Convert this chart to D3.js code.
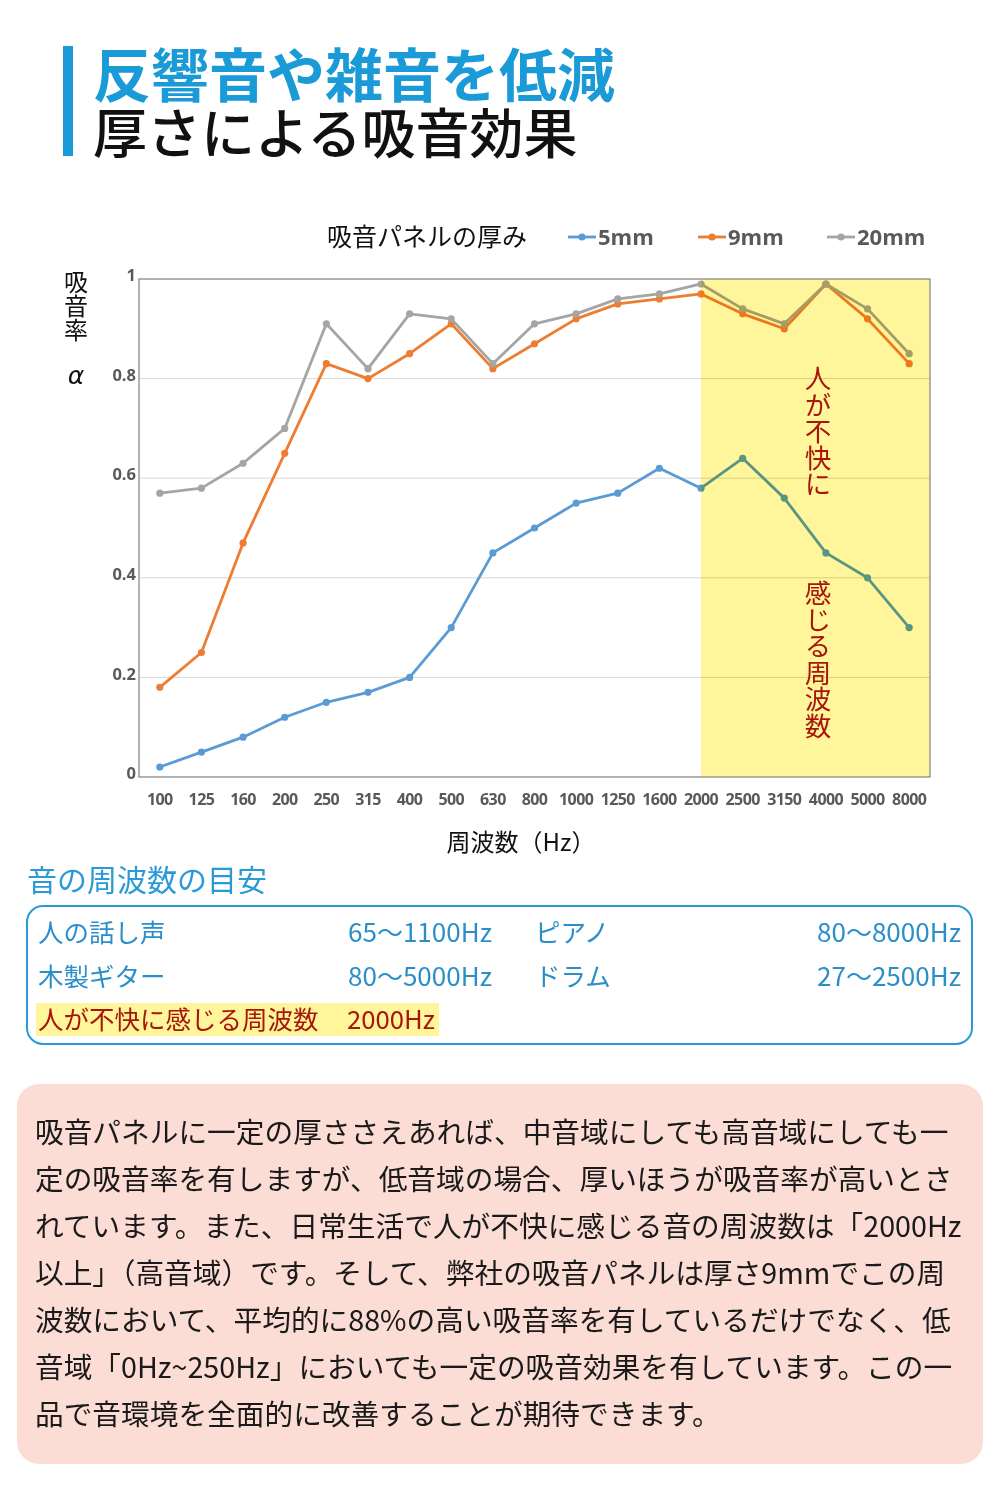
<!DOCTYPE html>
<html><head><meta charset="utf-8">
<script src="https://cdn.jsdelivr.net/npm/d3@7"></script>
<style>
body{margin:0;background:#fff;}
svg{display:block;}
.vt{writing-mode:vertical-rl;text-orientation:upright;}
</style></head>
<body>
<svg id="c" width="1000" height="1500"></svg>
<script>
const categories = ["100","125","160","200","250","315","400","500","630","800","1000","1250","1600","2000","2500","3150","4000","5000","8000"];
const s5mm  = [0.02,0.05,0.08,0.12,0.15,0.17,0.20,0.30,0.45,0.50,0.55,0.57,0.62,0.58,0.64,0.56,0.45,0.40,0.30];
const s9mm  = [0.18,0.25,0.47,0.65,0.83,0.80,0.85,0.91,0.82,0.87,0.92,0.95,0.96,0.97,0.93,0.90,0.99,0.92,0.83];
const s20mm = [0.57,0.58,0.63,0.70,0.91,0.82,0.93,0.92,0.83,0.91,0.93,0.96,0.97,0.99,0.94,0.91,0.99,0.94,0.85];
const seriesNames = ["5mm","9mm","20mm"];
const yTicks = [0,0.2,0.4,0.6,0.8,1];
const highlightFrom = "2000";
const refRows = [["人の話し声","65〜1100Hz","ピアノ","80〜8000Hz"],["木製ギター","80〜5000Hz","ドラム","27〜2500Hz"]];
const bodyLines = [
"吸音パネルに一定の厚ささえあれば、中音域にしても高音域にしても一",
"定の吸音率を有しますが、低音域の場合、厚いほうが吸音率が高いとさ",
"れています。また、日常生活で人が不快に感じる音の周波数は「2000Hz",
"以上」（高音域）です。そして、弊社の吸音パネルは厚さ9mmでこの周",
"波数において、平均的に88%の高い吸音率を有しているだけでなく、低",
"音域「0Hz~250Hz」においても一定の吸音効果を有しています。この一",
"品で音環境を全面的に改善することが期待できます。"];

const JP = "'Noto Sans CJK JP','Noto Sans',sans-serif";
const svg = d3.select("#c");
const colors = ["#5B9BD5","#ED7D31","#A5A5A5"];
const data = [s5mm,s9mm,s20mm];

// Title
svg.append("rect").attr("x",63).attr("y",46).attr("width",10).attr("height",110).attr("fill","#1a9ad6");
svg.append("text").attr("x",93).attr("y",97).attr("font-family",JP).attr("font-weight",700).attr("font-size",58).attr("fill","#1a9ad6").text("反響音や雑音を低減");
svg.append("text").attr("x",93).attr("y",154).attr("font-family",JP).attr("font-weight",500).attr("font-size",54).attr("fill","#111").text("厚さによる吸音効果");

// Chart
const m = {l:139, r:930, t:279, b:777};
const x = d3.scaleBand().domain(categories).range([m.l,m.r]);
const y = d3.scaleLinear().domain([0,1]).range([m.b,m.t]);
const cx = d => x(d)+x.bandwidth()/2;

svg.append("g").selectAll("line").data(yTicks.filter(v=>v>0&&v<1)).join("line")
  .attr("x1",m.l).attr("x2",m.r).attr("y1",d=>y(d)).attr("y2",d=>y(d))
  .attr("stroke","#d9d9d9").attr("stroke-width",1);

const line = d3.line().x((d,i)=>cx(categories[i])).y(d=>y(d));
data.forEach((arr,k)=>{
  const g = svg.append("g");
  g.append("path").datum(arr).attr("d",line).attr("fill","none").attr("stroke",colors[k]).attr("stroke-width",2.8).attr("stroke-linejoin","round");
  g.selectAll("circle").data(arr).join("circle").attr("cx",(d,i)=>cx(categories[i])).attr("cy",d=>y(d)).attr("r",3.6).attr("fill",colors[k]);
});

// highlight overlay (multiply)
const hx = cx(highlightFrom);
svg.append("rect").attr("x",hx).attr("y",m.t).attr("width",m.r-hx).attr("height",m.b-m.t)
  .attr("fill","#FFF59A").style("mix-blend-mode","multiply");

// frame
svg.append("rect").attr("x",m.l).attr("y",m.t).attr("width",m.r-m.l).attr("height",m.b-m.t).attr("fill","none").attr("stroke","#808080").attr("stroke-width",1.2);

// vertical text in highlight
[["人が不快に",365],["感じる周波数",580]].forEach(([t,y0])=>{
  svg.append("text").attr("class","vt").attr("x",818).attr("y",y0)
   .attr("font-family",JP).attr("font-size",26.5).attr("fill","#A8150C").text(t);
});

// axes labels
const axL = d3.axisLeft(y).tickValues(yTicks).tickSize(0).tickPadding(0).tickFormat(d=>d3.format("")(d));
const gy = svg.append("g").attr("transform",`translate(${m.l-3},0)`).call(axL);
gy.select(".domain").remove();
gy.selectAll("text").attr("font-family","'Open Sans',sans-serif").attr("font-weight",700).attr("font-size",16.5).attr("fill","#595959").attr("dy","0.1em");
const axB = d3.axisBottom(x).tickSize(0).tickPadding(0);
const gx = svg.append("g").attr("transform",`translate(0,${m.b+17})`).call(axB);
gx.select(".domain").remove();
gx.selectAll("text").attr("font-family","'Open Sans',sans-serif").attr("font-weight",700).attr("font-size",16).attr("fill","#595959").attr("letter-spacing","-0.6");

// y title
svg.append("text").attr("class","vt").attr("x",76).attr("y",270).attr("font-family",JP).attr("font-size",24).attr("fill","#111").text("吸音率");
svg.append("text").attr("x",76).attr("y",384).attr("text-anchor","middle").attr("font-family","'DejaVu Sans',sans-serif").attr("font-style","italic").attr("font-size",25).attr("fill","#111").text("α");
// x title
svg.append("text").attr("x",521).attr("y",851).attr("text-anchor","middle").attr("font-family",JP).attr("font-size",24).attr("fill","#111").text("周波数（Hz）");

// legend
svg.append("text").attr("x",327).attr("y",246).attr("font-family",JP).attr("font-size",25).attr("fill","#111").text("吸音パネルの厚み");
const legX = [568,698,827];
seriesNames.forEach((n,k)=>{
  const g = svg.append("g").attr("transform",`translate(${legX[k]},237)`);
  g.append("line").attr("x1",0).attr("x2",28).attr("stroke",colors[k]).attr("stroke-width",2.8);
  g.append("circle").attr("cx",14).attr("r",3.6).attr("fill",colors[k]);
  g.append("text").attr("x",30).attr("y",8).attr("font-family","'Open Sans',sans-serif").attr("font-weight",700).attr("font-size",22).attr("fill","#595959").text(n);
});

// reference section
const blue = "#2a8fc9";
svg.append("text").attr("x",27).attr("y",891).attr("font-family",JP).attr("font-size",30).attr("fill","#2a9ad6").text("音の周波数の目安");
svg.append("rect").attr("x",27).attr("y",906).attr("width",945).attr("height",138).attr("rx",16).attr("fill","none").attr("stroke","#2a9ad6").attr("stroke-width",2);
refRows.forEach((r,i)=>{
  const yy = 942+i*44;
  const st = (s)=>s.attr("font-family",JP).attr("font-size",25.5).attr("fill",blue);
  st(svg.append("text").attr("x",38).attr("y",yy).text(r[0]));
  st(svg.append("text").attr("x",348).attr("y",yy).attr("textLength",144).attr("lengthAdjust","spacingAndGlyphs").text(r[1]));
  st(svg.append("text").attr("x",535).attr("y",yy).text(r[2]));
  st(svg.append("text").attr("x",817).attr("y",yy).attr("textLength",144).attr("lengthAdjust","spacingAndGlyphs").text(r[3]));
});
svg.append("rect").attr("x",36).attr("y",1003).attr("width",403).attr("height",33).attr("fill","#FFF59A");
svg.append("text").attr("x",38).attr("y",1029).attr("font-family",JP).attr("font-size",25.5).attr("fill","#A8150C").text("人が不快に感じる周波数");
svg.append("text").attr("x",347).attr("y",1029).attr("textLength",88).attr("lengthAdjust","spacingAndGlyphs").attr("font-family",JP).attr("font-size",25.5).attr("fill","#A8150C").text("2000Hz");

// body box
svg.append("rect").attr("x",17).attr("y",1084).attr("width",966).attr("height",380).attr("rx",22).attr("fill","#FCDDD6");
bodyLines.forEach((t,i)=>{
  svg.append("text").attr("x",35).attr("y",1143+i*47).attr("font-family",JP).attr("font-size",28.7).attr("fill","#1a1a1a").text(t);
});
</script>
</body></html>
